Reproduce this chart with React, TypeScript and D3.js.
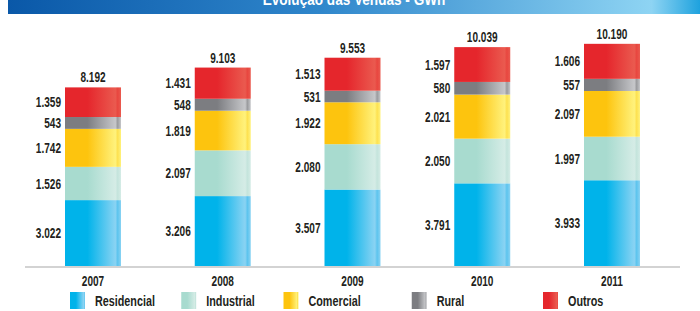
import React from "react";
import * as d3 from "d3";

// Evolução das vendas (GWh)
const years = ["2007", "2008", "2009", "2010", "2011"];
const categories = ["Residencial", "Industrial", "Comercial", "Rural", "Outros"];
const residencial = [3022, 3206, 3507, 3791, 3933];
const industrial = [1526, 2097, 2080, 2050, 1997];
const comercial = [1742, 1819, 1922, 2021, 2097];
const rural = [543, 548, 531, 580, 557];
const outros = [1359, 1431, 1513, 1597, 1606];
const totals = [8192, 9103, 9553, 10039, 10190];

const W = 700;
const H = 311;
const FONT = "'Liberation Sans', Arial, sans-serif";
const SQUEEZE = 0.72; // original uses a condensed face

const palette: Record<string, { base: string; light: string; edge: string }> = {
  Residencial: { base: "#00b3ea", light: "#8ad3f3", edge: "#5cc4ee" },
  Industrial: { base: "#a8dbcf", light: "#d5ece6", edge: "#c4e4dc" },
  Comercial: { base: "#fdc40e", light: "#fff27c", edge: "#fde150" },
  Rural: { base: "#7c7d81", light: "#c6c7ca", edge: "#9a9b9e" },
  Outros: { base: "#e5262c", light: "#ea5a4f", edge: "#e8463f" },
};

const fmt = (v: number) => d3.format(",")(v).replace(/,/g, ".");

// condensed text: squeeze horizontally around its anchor point
const Narrow = ({ x, y, anchor = "start", size = 14, dy, children }: any) => (
  <g transform={`translate(${x},${y}) scale(${SQUEEZE},1)`}>
    <text
      textAnchor={anchor}
      dy={dy}
      fontFamily={FONT}
      fontWeight="bold"
      fontSize={size}
      fill="#231f20"
    >
      {children}
    </text>
  </g>
);

export default function App() {
  const rows = years.map((y, i) => ({
    year: y,
    Residencial: residencial[i],
    Industrial: industrial[i],
    Comercial: comercial[i],
    Rural: rural[i],
    Outros: outros[i],
    total: totals[i],
  }));

  const series = d3.stack<any>().keys(categories)(rows);

  const x = d3.scalePoint<string>().domain(years).range([93, 612]);
  const barW = 56;
  const y = d3.scaleLinear().domain([0, 12200]).range([266, 0]);

  const legendX = d3.scalePoint<string>().domain(categories).range([70, 543]);
  // legend items are not evenly spaced in the original
  const legendShift = [0, -7, -23, -13, 0];

  return (
    <svg
      width={W}
      height={H}
      style={{ position: "absolute", left: 0, top: 0, background: "#fff" }}
    >
      <defs>
        <linearGradient id="title-grad" x1="0" x2="1" y1="0" y2="0">
          <stop offset="0" stopColor="#0a58a8" />
          <stop offset="0.45" stopColor="#2f86cb" />
          <stop offset="0.93" stopColor="#8ed4f3" />
          <stop offset="1" stopColor="#1ea2de" />
        </linearGradient>
        {categories.map((c) => (
          <linearGradient key={c} id={`g-${c}`} x1="0" x2="1" y1="0" y2="0">
            <stop offset="0" stopColor={palette[c].base} />
            <stop offset="0.4" stopColor={palette[c].base} />
            <stop offset="0.9" stopColor={palette[c].light} />
            <stop offset="0.94" stopColor={palette[c].edge} />
            <stop offset="1" stopColor={palette[c].light} />
          </linearGradient>
        ))}
      </defs>

      <rect x={8} y={0} width={W - 8} height={14} fill="url(#title-grad)" />
      <g transform={`translate(354,5) scale(0.85,1)`}>
        <text
          textAnchor="middle"
          fill="#fff"
          fontFamily={FONT}
          fontWeight="bold"
          fontSize={16}
        >
          Evolução das Vendas - GWh
        </text>
      </g>

      <line x1={25} x2={680} y1={267} y2={267} stroke="#d3d3d3" strokeWidth={2} />

      {series.map((s) => (
        <g key={s.key}>
          {s.map((d, i) => {
            const cx = x(years[i])!;
            const y0 = y(d[0]);
            const y1 = y(d[1]);
            return (
              <g key={years[i]}>
                <rect
                  x={cx - barW / 2}
                  y={y1}
                  width={barW}
                  height={y0 - y1}
                  fill={`url(#g-${s.key})`}
                />
                <Narrow x={cx - barW / 2 - 4} y={(y0 + y1) / 2} dy="0.36em" anchor="end">
                  {fmt(d[1] - d[0])}
                </Narrow>
              </g>
            );
          })}
        </g>
      ))}

      {rows.map((r) => (
        <g key={r.year}>
          <Narrow x={x(r.year)} y={y(r.total) - 5} anchor="middle">
            {fmt(r.total)}
          </Narrow>
          <Narrow x={x(r.year)} y={286} anchor="middle">
            {r.year}
          </Narrow>
        </g>
      ))}

      {categories.map((c, i) => {
        const lx = legendX(c)! + legendShift[i];
        return (
          <g key={c}>
            <rect x={lx} y={292} width={15} height={17} fill={`url(#g-${c})`} />
            <Narrow x={lx + 25} y={306} size={15}>
              {c}
            </Narrow>
          </g>
        );
      })}
    </svg>
  );
}
